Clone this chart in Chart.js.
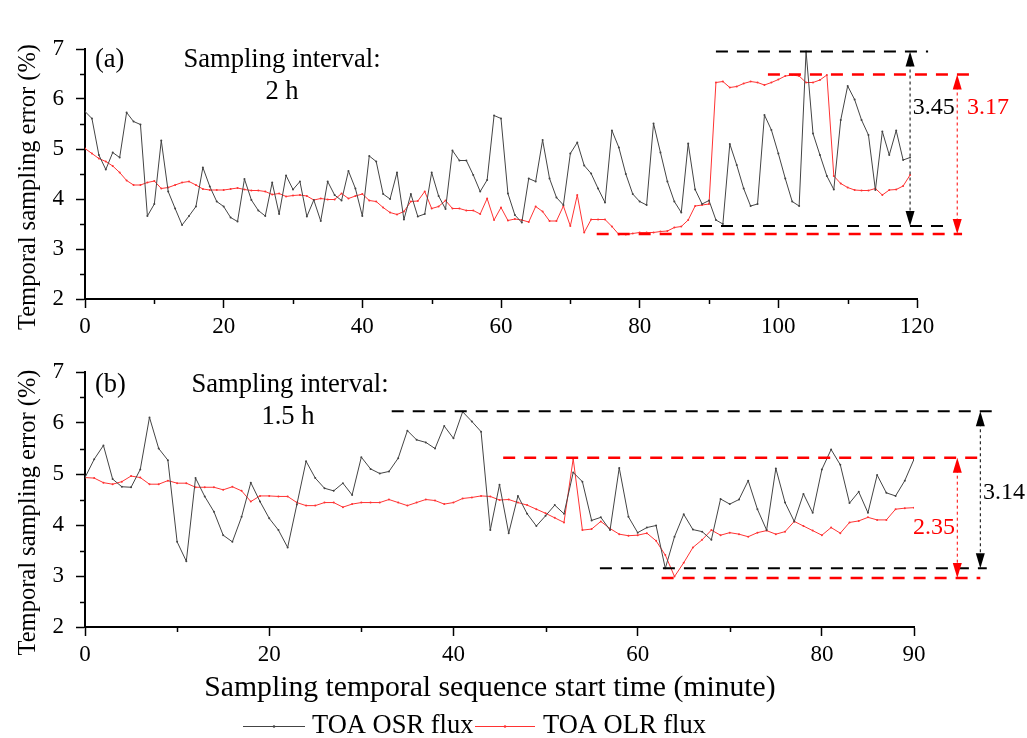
<!DOCTYPE html>
<html>
<head>
<meta charset="utf-8">
<script src="https://cdn.jsdelivr.net/npm/chart.js@4.4.1/dist/chart.umd.min.js"></script>
<style>
  html, body { margin: 0; padding: 0; background: #fff; }
  #wrap { position: relative; width: 1027px; height: 738px; }
  canvas { position: absolute; left: 0; }
  #cA { top: 0; }
  #cB { top: 345px; }
</style>
</head>
<body>
<div id="wrap">
  <canvas id="cA" width="1027" height="345"></canvas>
  <canvas id="cB" width="1027" height="393"></canvas>
</div>
<script>
// ---- data (one value per minute) ----
const osrA = [5.75, 5.61, 4.88, 4.59, 4.93, 4.83, 5.73, 5.55, 5.49, 3.66,
  3.90, 5.17, 4.15, 3.81, 3.48, 3.66, 3.85, 4.63, 4.25, 3.95,
  3.85, 3.63, 3.55, 4.40, 3.98, 3.77, 3.66, 4.33, 3.70, 4.47,
  4.19, 4.35, 3.65, 3.98, 3.56, 4.35, 4.08, 3.97, 4.56, 4.21,
  3.66, 4.86, 4.75, 4.10, 4.00, 4.53, 3.59, 4.10, 3.65, 3.70,
  4.53, 4.06, 3.80, 4.97, 4.77, 4.77, 4.48, 4.15, 4.38, 5.67,
  5.61, 4.11, 3.68, 3.53, 4.41, 4.35, 5.18, 4.41, 4.03, 3.88,
  4.91, 5.13, 4.67, 4.51, 4.21, 3.93, 5.37, 5.03, 4.50, 4.10,
  3.95, 3.88, 5.51, 4.93, 4.35, 3.95, 3.73, 5.11, 4.19, 3.90,
  3.97, 3.58, 3.50, 5.10, 4.68, 4.21, 3.86, 3.90, 5.68, 5.38,
  4.91, 4.41, 3.95, 3.86, 6.95, 5.31, 4.88, 4.46, 4.19, 5.58,
  6.26, 5.99, 5.58, 5.28, 4.18, 5.35, 4.88, 5.37, 4.78, 4.83];

const olrA = [5.01, 4.91, 4.81, 4.75, 4.66, 4.53, 4.37, 4.28, 4.28, 4.33,
  4.36, 4.21, 4.23, 4.28, 4.33, 4.35, 4.28, 4.20, 4.18, 4.18,
  4.18, 4.20, 4.22, 4.19, 4.17, 4.17, 4.15, 4.09, 4.11, 4.05,
  4.07, 4.08, 4.06, 3.98, 4.01, 3.99, 3.99, 4.11, 4.01, 4.06,
  4.10, 3.97, 3.95, 3.83, 3.73, 3.69, 3.75, 3.95, 3.96, 4.15,
  3.81, 3.85, 3.97, 3.81, 3.81, 3.77, 3.77, 3.70, 4.01, 3.58,
  3.83, 3.57, 3.60, 3.58, 3.54, 3.85, 3.75, 3.56, 3.56, 3.86,
  3.46, 4.08, 3.33, 3.59, 3.59, 3.59, 3.45, 3.29, 3.29, 3.31,
  3.33, 3.33, 3.33, 3.35, 3.36, 3.43, 3.45, 3.58, 3.86, 3.88,
  3.90, 6.33, 6.35, 6.23, 6.25, 6.31, 6.35, 6.33, 6.28, 6.33,
  6.39, 6.46, 6.48, 6.46, 6.33, 6.33, 6.38, 6.48, 4.46, 4.31,
  4.23, 4.18, 4.17, 4.17, 4.21, 4.08, 4.18, 4.19, 4.26, 4.48];

const osrB = [4.93, 5.29, 5.56, 4.90, 4.75, 4.74, 5.09, 6.11, 5.50, 5.27,
  3.67, 3.29, 4.92, 4.56, 4.26, 3.80, 3.67, 4.16, 4.83, 4.46,
  4.13, 3.90, 3.56, 4.40, 5.25, 4.92, 4.72, 4.67, 4.82, 4.59,
  5.33, 5.10, 5.01, 5.05, 5.31, 5.85, 5.67, 5.62, 5.50, 5.94,
  5.70, 6.22, 6.03, 5.83, 3.90, 4.79, 3.84, 4.57, 4.22, 3.98,
  4.18, 4.39, 4.22, 5.03, 4.85, 4.09, 4.15, 3.90, 5.12, 4.16,
  3.85, 3.95, 3.99, 3.15, 3.77, 4.21, 3.91, 3.87, 3.71, 4.51,
  4.41, 4.50, 4.87, 4.31, 3.90, 5.11, 4.44, 4.07, 4.61, 4.24,
  5.09, 5.48, 5.18, 4.43, 4.65, 4.24, 4.98, 4.63, 4.57, 4.87,
  5.29];

const olrB = [4.93, 4.92, 4.83, 4.80, 4.85, 4.96, 4.93, 4.80, 4.80, 4.87,
  4.82, 4.82, 4.74, 4.74, 4.74, 4.69, 4.75, 4.67, 4.46, 4.57,
  4.57, 4.56, 4.56, 4.44, 4.38, 4.38, 4.44, 4.44, 4.35, 4.41,
  4.44, 4.44, 4.44, 4.50, 4.44, 4.38, 4.44, 4.50, 4.48, 4.41,
  4.44, 4.52, 4.54, 4.57, 4.56, 4.49, 4.50, 4.44, 4.39, 4.31,
  4.23, 4.14, 4.05, 5.30, 3.90, 3.92, 4.07, 3.93, 3.82, 3.79,
  3.80, 3.84, 3.69, 3.41, 2.99, 3.26, 3.56, 3.71, 3.90, 3.80,
  3.85, 3.82, 3.77, 3.85, 3.89, 3.82, 3.87, 4.07, 3.98, 3.89,
  3.80, 3.95, 3.84, 4.05, 4.08, 4.15, 4.10, 4.10, 4.31, 4.33,
  4.34];

const seriesNames = ['TOA OSR flux', 'TOA OLR flux'];
const yTicks = [2, 3, 4, 5, 6, 7];
const xTicksA = [0, 20, 40, 60, 80, 100, 120];
const xTicksB = [0, 20, 40, 60, 80, 90];

const SERIF = '"Liberation Serif", "Times New Roman", serif';
const BLACK_LINE = '#444444';
const RED_LINE = '#ff3333';
const RED = '#ff0000';

const toXY = arr => arr.map((v, i) => ({ x: i, y: v }));

function head(ctx, x, y, dir) {
  ctx.beginPath();
  ctx.moveTo(x, y);
  ctx.lineTo(x - 4.5, y + dir * 15);
  ctx.lineTo(x + 4.5, y + dir * 15);
  ctx.closePath();
  ctx.fill();
}

// draws dashed range lines, double arrows, labels, minor ticks and panel texts
const decor = {
  id: 'decor',
  afterDraw(chart, args, opts) {
    const { ctx, chartArea } = chart;
    const xs = chart.scales.x, ys = chart.scales.y;
    ctx.save();

    // minor ticks
    ctx.strokeStyle = '#000';
    ctx.lineWidth = 1.5;
    for (let v = ys.min + 0.5; v < ys.max; v += 1) {
      const py = Math.round(ys.getPixelForValue(v)) + 0.5;
      ctx.beginPath(); ctx.moveTo(chartArea.left - 5, py); ctx.lineTo(chartArea.left, py); ctx.stroke();
    }
    for (let v = 10; v < xs.max; v += 20) {
      const px = Math.round(xs.getPixelForValue(v)) + 0.5;
      ctx.beginPath(); ctx.moveTo(px, chartArea.bottom); ctx.lineTo(px, chartArea.bottom + 5); ctx.stroke();
    }

    // dashed range lines
    (opts.dashes || []).forEach(d => {
      ctx.strokeStyle = d.color;
      ctx.lineWidth = d.color === RED ? 2.5 : 2;
      ctx.setLineDash([12, 9]);
      const py = ys.getPixelForValue(d.y);
      ctx.beginPath();
      ctx.moveTo(xs.getPixelForValue(d.x0), py);
      ctx.lineTo(xs.getPixelForValue(d.x1), py);
      ctx.stroke();
    });

    // double-headed dotted arrows
    (opts.arrows || []).forEach(a => {
      const px = xs.getPixelForValue(a.x);
      const top = ys.getPixelForValue(a.y1), bot = ys.getPixelForValue(a.y0);
      ctx.strokeStyle = a.color; ctx.fillStyle = a.color; ctx.lineWidth = 1;
      ctx.setLineDash([3, 3]);
      ctx.beginPath(); ctx.moveTo(px, top + 12); ctx.lineTo(px, bot - 12); ctx.stroke();
      ctx.setLineDash([]);
      head(ctx, px, top, 1);
      head(ctx, px, bot, -1);
    });
    ctx.setLineDash([]);

    // range labels (data coords)
    ctx.textBaseline = 'middle';
    (opts.labels || []).forEach(l => {
      ctx.font = '24px ' + SERIF;
      ctx.fillStyle = l.color;
      ctx.textAlign = l.align;
      ctx.fillText(l.text, xs.getPixelForValue(l.x), ys.getPixelForValue(l.y));
    });

    // free texts (canvas px)
    (opts.texts || []).forEach(t => {
      ctx.font = t.size + 'px ' + SERIF;
      ctx.fillStyle = '#000';
      ctx.textAlign = t.align || 'left';
      ctx.fillText(t.text, t.x, t.y);
    });

    // vertical axis title
    ctx.save();
    ctx.translate(29, (chartArea.top + chartArea.bottom) / 2 + 13);
    ctx.rotate(-Math.PI / 2);
    ctx.font = '24.5px ' + SERIF;
    ctx.fillStyle = '#000';
    ctx.textAlign = 'center';
    ctx.fillText('Temporal sampling error (%)', 0, 0);
    ctx.restore();

    // legend
    if (opts.legend) {
      const ly = opts.legend.y;
      const items = [
        { x0: 243, x1: 305, tx: 312, color: BLACK_LINE, name: seriesNames[0] },
        { x0: 475, x1: 535, tx: 543, color: RED_LINE, name: seriesNames[1] }
      ];
      items.forEach(it => {
        ctx.strokeStyle = it.color; ctx.lineWidth = 1;
        ctx.beginPath(); ctx.moveTo(it.x0, ly + 0.5); ctx.lineTo(it.x1, ly + 0.5); ctx.stroke();
        ctx.fillStyle = it.color;
        ctx.beginPath(); ctx.arc((it.x0 + it.x1) / 2, ly + 0.5, 1.3, 0, Math.PI * 2); ctx.fill();
        ctx.font = '26.5px ' + SERIF;
        ctx.fillStyle = '#000';
        ctx.textAlign = 'left';
        ctx.fillText(it.name, it.tx, ly);
      });
    }
    ctx.restore();
  }
};
Chart.register(decor);

function makeOptions(xMax, xTicks, fitH, pad, decorOpts) {
  return {
    responsive: false,
    animation: false,
    layout: { padding: pad },
    plugins: { legend: { display: false }, tooltip: { enabled: false }, decor: decorOpts },
    scales: {
      x: {
        type: 'linear', min: 0, max: xMax,
        afterBuildTicks: s => { s.ticks = xTicks.map(v => ({ value: v })); },
        afterFit: s => { s.height = fitH; },
        ticks: { color: '#000', font: { family: SERIF, size: 23 }, padding: 5, maxRotation: 0, autoSkip: false },
        grid: { drawOnChartArea: false, tickLength: 9, tickColor: '#000', tickWidth: 1.5 },
        border: { color: '#000', width: 2 }
      },
      y: {
        min: 2, max: 7,
        afterBuildTicks: s => { s.ticks = yTicks.map(v => ({ value: v })); },
        afterFit: s => { s.width = 85; },
        ticks: { color: '#000', font: { family: SERIF, size: 23 }, padding: 12 },
        grid: { drawOnChartArea: false, tickLength: 9, tickColor: '#000', tickWidth: 1.5 },
        border: { color: '#000', width: 2 }
      }
    }
  };
}

function makeDatasets(osr, olr) {
  return [
    { label: seriesNames[0], data: toXY(osr), borderColor: BLACK_LINE, backgroundColor: BLACK_LINE,
      borderWidth: 1, pointRadius: 1, pointBorderWidth: 0, tension: 0 },
    { label: seriesNames[1], data: toXY(olr), borderColor: RED_LINE, backgroundColor: RED_LINE,
      borderWidth: 1, pointRadius: 1, pointBorderWidth: 0, tension: 0 }
  ];
}

new Chart(document.getElementById('cA'), {
  type: 'line',
  data: { datasets: makeDatasets(osrA, olrA) },
  options: makeOptions(120, xTicksA, 46, { left: 0, top: 49, right: 110, bottom: 0 }, {
    dashes: [
      { y: 6.95, x0: 91, x1: 121.6, color: '#000' },
      { y: 6.49, x0: 98.5, x1: 127.6, color: RED },
      { y: 3.46, x0: 88.7, x1: 125, color: '#000' },
      { y: 3.30, x0: 73.8, x1: 126.5, color: RED }
    ],
    arrows: [
      { x: 119, y0: 3.46, y1: 6.95, color: '#000' },
      { x: 125.8, y0: 3.30, y1: 6.49, color: RED }
    ],
    labels: [
      { text: '3.45', x: 119.4, y: 5.82, color: '#000', align: 'left' },
      { text: '3.17', x: 127.2, y: 5.82, color: RED, align: 'left' }
    ],
    texts: [
      { text: '(a)', x: 95, y: 60, size: 26.5 },
      { text: 'Sampling interval:', x: 282, y: 60, size: 26.6, align: 'center' },
      { text: '2 h', x: 282, y: 92, size: 26.6, align: 'center' }
    ]
  })
});

new Chart(document.getElementById('cB'), {
  type: 'line',
  data: { datasets: makeDatasets(osrB, olrB) },
  options: makeOptions(90, xTicksB, 111, { left: 0, top: 27, right: 113, bottom: 0 }, {
    dashes: [
      { y: 6.23, x0: 33.3, x1: 99.3, color: '#000' },
      { y: 5.32, x0: 45.4, x1: 97.2, color: RED },
      { y: 3.15, x0: 55.9, x1: 97.9, color: '#000' },
      { y: 2.96, x0: 62.6, x1: 97.2, color: RED }
    ],
    arrows: [
      { x: 97.2, y0: 3.15, y1: 6.23, color: '#000' },
      { x: 94.7, y0: 2.96, y1: 5.32, color: RED }
    ],
    labels: [
      { text: '3.14', x: 97.5, y: 4.63, color: '#000', align: 'left' },
      { text: '2.35', x: 94.45, y: 3.94, color: RED, align: 'right' }
    ],
    texts: [
      { text: '(b)', x: 95, y: 40, size: 26.5 },
      { text: 'Sampling interval:', x: 290, y: 40, size: 26.6, align: 'center' },
      { text: '1.5 h', x: 288, y: 72, size: 26.6, align: 'center' },
      { text: 'Sampling temporal sequence start time (minute)', x: 490, y: 343, size: 29.7, align: 'center' }
    ],
    legend: { y: 381 }
  })
});
</script>
</body>
</html>
